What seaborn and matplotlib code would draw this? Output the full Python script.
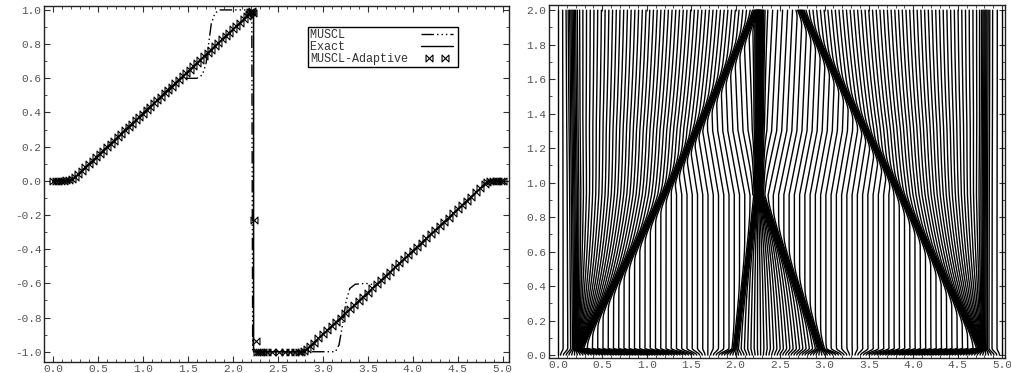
import numpy as np
import pandas as pd
import matplotlib
matplotlib.use("Agg")
import matplotlib.pyplot as plt
import seaborn as sns
from matplotlib.path import Path
from matplotlib.lines import Line2D
from matplotlib.legend_handler import HandlerLine2D
from matplotlib.ticker import MultipleLocator, FormatStrFormatter

# ---------------- data ----------------
# Left panel: solution profiles at the final time
exact_x = [0.0, 0.20, 2.23, 2.23, 2.79, 4.84, 5.0]
exact_y = [0.0, 0.0, 1.0, -1.0, -1.0, 0.0, 0.0]

muscl_x = [0.0, 0.20, 1.41, 1.50, 1.60, 1.66, 1.70, 1.73, 1.76, 1.80, 1.85, 2.21,
           2.22, 3.14, 3.18, 3.22, 3.26, 3.30, 3.36, 3.48, 3.60, 4.84, 5.0]
muscl_y = [0.0, 0.0, 0.60, 0.60, 0.60, 0.62, 0.68, 0.80, 0.92, 0.98, 1.0, 1.0,
           -1.0, -1.0, -0.96, -0.84, -0.70, -0.63, -0.605, -0.60, -0.61, 0.0, 0.0]

adapt_x = [0.00, 0.03, 0.06, 0.09, 0.12, 0.15, 0.18, 0.21,
           0.24, 0.28, 0.32, 0.36, 0.40, 0.44, 0.48, 0.52, 0.56, 0.60,
           0.64, 0.68, 0.72, 0.76, 0.80, 0.84, 0.88, 0.92, 0.96, 1.00,
           1.04, 1.08, 1.12, 1.16, 1.20, 1.24, 1.28, 1.32, 1.36, 1.40,
           1.44, 1.48, 1.52, 1.56, 1.60, 1.64, 1.68, 1.72, 1.76, 1.80,
           1.84, 1.88, 1.92, 1.96, 2.00, 2.04, 2.08, 2.12, 2.16,
           2.18, 2.19, 2.20, 2.21, 2.22,
           2.24, 2.26,
           2.27, 2.29, 2.31, 2.34, 2.38, 2.44, 2.51, 2.58, 2.64, 2.69, 2.73, 2.76, 2.79,
           2.82, 2.86, 2.90, 2.95, 3.00, 3.05, 3.10, 3.15, 3.20, 3.25, 3.30,
           3.35, 3.40, 3.45, 3.50, 3.55, 3.60, 3.65, 3.70, 3.75, 3.80, 3.85,
           3.90, 3.95, 4.00, 4.05, 4.10, 4.15, 4.20, 4.25, 4.30, 4.35, 4.40,
           4.45, 4.50, 4.55, 4.60, 4.65, 4.70, 4.75, 4.80,
           4.83, 4.86, 4.89, 4.92, 4.95, 4.98, 5.00]
adapt_y = [0.0, 0.0, 0.0, 0.0, 0.0, 0.002, 0.005, 0.01,
           0.020, 0.039, 0.059, 0.079, 0.099, 0.118, 0.138, 0.158, 0.177, 0.197,
           0.217, 0.236, 0.256, 0.276, 0.296, 0.315, 0.335, 0.355, 0.374, 0.394,
           0.414, 0.433, 0.453, 0.473, 0.493, 0.512, 0.532, 0.552, 0.571, 0.591,
           0.611, 0.631, 0.650, 0.670, 0.690, 0.709, 0.729, 0.749, 0.768, 0.788,
           0.808, 0.828, 0.847, 0.867, 0.887, 0.906, 0.926, 0.946, 0.966,
           0.975, 0.985, 0.99, 0.995, 0.98,
           -0.23, -0.935,
           -1.0, -1.0, -1.0, -1.0, -1.0, -1.0, -1.0, -1.0, -1.0, -1.0, -1.0, -1.0, -0.995,
           -0.985, -0.966, -0.946, -0.922, -0.898, -0.873, -0.849, -0.824, -0.800, -0.776, -0.751,
           -0.727, -0.702, -0.678, -0.654, -0.629, -0.605, -0.580, -0.556, -0.532, -0.507, -0.483,
           -0.459, -0.434, -0.410, -0.385, -0.361, -0.337, -0.312, -0.288, -0.263, -0.239, -0.215,
           -0.190, -0.166, -0.141, -0.117, -0.093, -0.068, -0.044, -0.020,
           -0.007, -0.002, 0.0, 0.0, 0.0, 0.0, 0.0]

legend_labels = ["MUSCL", "Exact", "MUSCL-Adaptive"]

# Right panel: front trajectories (t, x)
left_tail_t, left_tail_x = [0.0, 2.0], [0.20, 0.16]
left_head_t, left_head_x = [0.0, 1.0, 2.0], [0.20, 1.27, 2.24]
comp_left_t, comp_left_x = [0.0, 0.93], [1.98, 2.24]
comp_right_t, comp_right_x = [0.0, 0.93], [2.99, 2.28]
shock_t, shock_x = [0.93, 2.0], [2.26, 2.27]
right_head_t, right_head_x = [0.0, 1.0, 2.0], [4.80, 3.78, 2.73]
right_tail_t, right_tail_x = [0.0, 2.0], [4.80, 4.81]
n_nodes = 161
t_final = 2.0

# ---------------- mesh trajectories (equidistribution around the fronts) ----------------
xs = np.linspace(0.0, 5.0, 3001)


def pos(tt, xx, t):
    return float(np.interp(t, tt, xx))


def sig(z):
    return 1.0 / (1.0 + np.exp(-np.clip(z, -60, 60)))


FAN_W, COMP_W = 0.7, 0.6
T_APEX = 0.93
I_TAIL, I_HEAD, I_CL, I_CR = 0.35, 0.45, 0.35, 0.50
I_SHOCK_END = 0.95


def monitor(t):
    m = np.ones_like(xs)
    for (at, ax_), (bt, bx) in [((left_tail_t, left_tail_x), (left_head_t, left_head_x)),
                                ((right_head_t, right_head_x), (right_tail_t, right_tail_x))]:
        lo, hi = pos(at, ax_, t), pos(bt, bx, t)
        w = max(hi - lo, 0.02)
        m += FAN_W / w * sig((xs - lo) / 0.008) * sig((hi - xs) / 0.008)
    bands = [
        (left_tail_t, left_tail_x, I_TAIL, 0.06),
        (left_head_t, left_head_x, I_HEAD, 0.04),
        (right_head_t, right_head_x, I_HEAD, 0.04),
        (right_tail_t, right_tail_x, I_TAIL, 0.05),
    ]
    if t < T_APEX:
        lo, hi = pos(comp_left_t, comp_left_x, t), pos(comp_right_t, comp_right_x, t)
        w = max(hi - lo, 0.03)
        m += COMP_W / w * sig((xs - lo) / 0.008) * sig((hi - xs) / 0.008)
        bands += [(comp_left_t, comp_left_x, I_CL, 0.03),
                  (comp_right_t, comp_right_x, I_CR, 0.04)]
    else:
        i0 = I_CL + I_CR + COMP_W
        integ = float(np.interp(t, [T_APEX, 1.3, t_final], [i0, 1.1, I_SHOCK_END]))
        bands.append((shock_t, shock_x, integ, 0.045))
    for tt, xx, integ, s in bands:
        c = pos(tt, xx, t)
        m += integ / (s * np.sqrt(np.pi)) * np.exp(-((xs - c) / s) ** 2)
    return m


def adapted(t):
    m = monitor(t)
    c = np.concatenate([[0.0], np.cumsum(0.5 * (m[1:] + m[:-1]) * np.diff(xs))])
    c /= c[-1]
    return np.interp(np.linspace(0, 1, n_nodes), c, xs)


T_INIT = 0.04
uniform = np.linspace(0.0, 5.0, n_nodes)
x_init = adapted(T_INIT)
t_levels = np.concatenate([np.linspace(0, T_INIT, 9)[:-1], np.linspace(T_INIT, t_final, 393)])
rows = []
for t in t_levels:
    if t < T_INIT:
        a = t / T_INIT
        a = a * a * (3 - 2 * a)
        xn = (1 - a) * uniform + a * x_init
    else:
        xn = adapted(t)
    rows.append(pd.DataFrame({"x": xn, "t": t, "node": np.arange(n_nodes)}))
mesh = pd.concat(rows, ignore_index=True).sort_values(["node", "t"], kind="stable")

# ---------------- figure ----------------
sns.set_theme(style="ticks")
plt.rcParams["font.family"] = ["Liberation Mono", "DejaVu Sans Mono"]

fig = plt.figure(figsize=(10.11, 3.73), dpi=100)
ax1 = fig.add_axes([0.0435, 0.0295, 0.460, 0.9544])
ax2 = fig.add_axes([0.543, 0.0402, 0.451, 0.9464])

bowtie = Path([(-1, -1), (-1, 1), (1, -1), (1, 1), (-1, -1)],
              [Path.MOVETO, Path.LINETO, Path.LINETO, Path.LINETO, Path.CLOSEPOLY])
muscl_dashes = (9, 2.2, 1, 2.2, 1, 2.2, 1, 2.2)

sns.lineplot(x=muscl_x, y=muscl_y, sort=False, estimator=None, color="black", lw=1.0, ax=ax1)
ax1.lines[-1].set_dashes(muscl_dashes)
sns.lineplot(x=exact_x, y=exact_y, sort=False, estimator=None, color="black", lw=1.1, ax=ax1)
sns.lineplot(x=adapt_x, y=adapt_y, sort=False, estimator=None, color="black", linestyle="none",
             marker=bowtie, mfc="none", mec="black", ms=5, mew=0.8, ax=ax1)

sns.lineplot(data=mesh, x="x", y="t", units="node", estimator=None, sort=False,
             orient="y", color="black", lw=1.0, ax=ax2, legend=False)

ax1.set_xlim(-0.1, 5.07)
ax1.set_ylim(-1.06, 1.023)
ax2.set_xlim(-0.1, 5.03)
ax2.set_ylim(-0.017, 2.03)

for ax in (ax1, ax2):
    ax.set_xlabel("")
    ax.set_ylabel("")
    ax.xaxis.set_major_locator(MultipleLocator(0.5))
    ax.xaxis.set_minor_locator(MultipleLocator(0.1))
    ax.yaxis.set_major_locator(MultipleLocator(0.2))
    ax.yaxis.set_minor_locator(MultipleLocator(0.1))
    ax.xaxis.set_major_formatter(FormatStrFormatter("%.1f"))
    ax.yaxis.set_major_formatter(FormatStrFormatter("%.1f"))
    ax.tick_params(which="both", direction="in", top=True, right=True,
                   labelsize=8, labelcolor="#555555", color="#333333", pad=2)
    ax.tick_params(which="major", length=4, width=0.8)
    ax.tick_params(which="minor", length=2, width=0.6)
    ax.tick_params(axis="x", which="major", pad=1.5)
    for sp in ax.spines.values():
        sp.set_visible(True)
        sp.set_color("#222222")
        sp.set_linewidth(1.0)

handles = [Line2D([], [], color="black", lw=1.0, dashes=muscl_dashes),
           Line2D([], [], color="black", lw=1.0),
           Line2D([], [], color="black", linestyle="none", marker=bowtie,
                  mfc="none", mec="black", ms=5, mew=0.8)]
width = max(len(s) for s in legend_labels)
leg = ax1.legend(handles, [s.ljust(width) for s in legend_labels],
                 loc="upper left", bbox_to_anchor=(0.568, 0.94), borderaxespad=0,
                 markerfirst=False, frameon=True, fancybox=False, framealpha=1,
                 edgecolor="black", borderpad=0.15, labelspacing=0.0,
                 handlelength=3.3, handletextpad=0.8, numpoints=2,
                 handler_map={handles[2]: HandlerLine2D(numpoints=2, marker_pad=1.0)},
                 prop={"family": "Liberation Mono", "size": 8.5})
leg.get_frame().set_linewidth(1.0)
for txt in leg.get_texts():
    txt.set_color("#333333")

fig.savefig("out.png", dpi=100)
